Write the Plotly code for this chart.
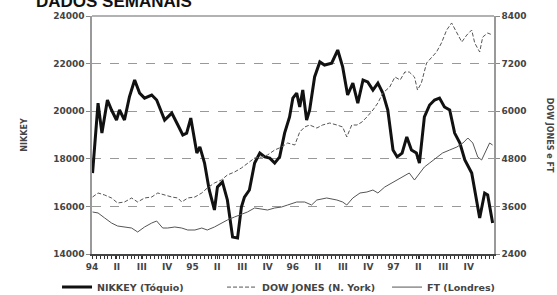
import plotly.graph_objects as go

# ---------------- data ----------------
nikkei_dates = ["1994-01-03","1994-01-23","1994-02-06","1994-02-26","1994-03-13","1994-03-31","1994-04-11",
    "1994-04-29","1994-05-17","1994-06-05","1994-06-23","1994-07-11","1994-08-06","1994-08-24","1994-09-22",
    "1994-10-18","1994-11-09","1994-11-27","1994-12-11","1994-12-26","1995-01-17","1995-01-28","1995-02-14",
    "1995-03-03","1995-03-22","1995-04-02","1995-04-20","1995-05-08","1995-05-27","1995-06-14","1995-06-28",
    "1995-07-09","1995-07-27","1995-08-15","1995-09-03","1995-09-21","1995-10-09","1995-10-27","1995-11-14",
    "1995-12-02","1995-12-20","1996-01-01","1996-01-15","1996-01-26","1996-02-06","1996-02-20","1996-03-02",
    "1996-03-20","1996-04-08","1996-04-25","1996-05-21","1996-06-12","1996-06-30","1996-07-18","1996-08-06",
    "1996-08-24","1996-09-12","1996-09-29","1996-10-18","1996-11-05","1996-11-23","1996-12-11","1996-12-30",
    "1997-01-14","1997-02-01","1997-02-18","1997-03-07","1997-03-25","1997-04-05","1997-04-23","1997-05-12",
    "1997-05-30","1997-06-17","1997-07-05","1997-07-24","1997-08-11","1997-08-30","1997-09-17","1997-10-12",
    "1997-10-23","1997-11-10","1997-11-28","1997-12-09","1997-12-27"]
nikkei = [17400,20340,19080,20470,20050,19630,20050,
    19630,20600,21310,20760,20550,20680,20470,19630,
    19920,19420,19000,19080,19710,18240,18500,17820,
    16690,15850,16820,17030,16270,14710,14670,15970,
    16390,16690,17820,18240,18080,18030,17820,18080,
    19080,19760,20550,20760,20180,20890,19630,20050,
    21440,22070,21940,22020,22570,21860,20680,21180,
    20340,21310,21230,20890,21180,20760,20050,18370,
    18080,18240,18920,18370,18240,17820,19760,20260,
    20470,20550,20180,20050,19080,18660,17950,17400,
    16690,15510,16560,16480,15300]

dow_dates = ["1994-01-03","1994-01-23","1994-02-16","1994-03-13","1994-04-04","1994-04-29","1994-05-25",
    "1994-06-16","1994-07-11","1994-08-06","1994-08-28","1994-09-22","1994-10-18","1994-11-09","1994-11-23",
    "1994-12-15","1995-01-10","1995-02-04","1995-02-24","1995-03-22","1995-04-16","1995-05-08","1995-06-03",
    "1995-06-28","1995-07-20","1995-08-15","1995-09-10","1995-10-01","1995-10-27","1995-11-21","1995-12-13",
    "1996-01-08","1996-01-26","1996-02-13","1996-03-02","1996-03-28","1996-04-18","1996-05-14","1996-06-09",
    "1996-06-30","1996-07-15","1996-08-02","1996-08-21","1996-09-08","1996-09-26","1996-10-18","1996-11-05",
    "1996-11-23","1996-12-18","1997-01-06","1997-01-25","1997-02-11","1997-02-27","1997-03-18","1997-03-29",
    "1997-04-12","1997-05-01","1997-05-19","1997-06-06","1997-06-24","1997-07-13","1997-07-31","1997-08-19",
    "1997-09-06","1997-09-24","1997-10-12","1997-10-23","1997-11-10","1997-11-21","1997-12-09","1997-12-27"]
dow = [3837,3938,3887,3812,3686,3711,3812,
    3711,3812,3837,3938,3887,3837,3812,3711,
    3812,3837,3938,4064,4190,4265,4392,4467,
    4568,4694,4820,4845,4896,5022,5097,5198,
    5148,5476,5602,5652,5576,5652,5702,5652,
    5602,5350,5652,5652,5727,5854,6030,6207,
    6459,6610,6862,6787,6988,6988,6862,6534,
    6711,7215,7366,7492,7719,8047,8224,7971,
    7744,7920,8047,7719,7492,7870,7971,7920]

ft_dates = ["1994-01-03","1994-01-23","1994-02-16","1994-03-13","1994-04-04","1994-04-29","1994-05-25",
    "1994-06-16","1994-07-11","1994-08-06","1994-08-24","1994-09-15","1994-10-03","1994-10-29","1994-11-23",
    "1994-12-15","1995-01-10","1995-02-04","1995-02-24","1995-03-22","1995-04-16","1995-05-08","1995-06-03",
    "1995-06-28","1995-07-20","1995-08-15","1995-09-10","1995-10-01","1995-10-27","1995-11-21","1995-12-13",
    "1996-01-08","1996-01-15","1996-02-13","1996-03-09","1996-03-28","1996-05-03","1996-06-09","1996-06-30",
    "1996-07-15","1996-08-06","1996-09-01","1996-09-26","1996-10-18","1996-11-05","1996-11-30","1996-12-26",
    "1997-01-14","1997-02-04","1997-02-27","1997-03-18","1997-04-05","1997-04-23","1997-05-12","1997-06-06",
    "1997-06-28","1997-07-24","1997-08-19","1997-09-10","1997-09-28","1997-10-16","1997-11-03","1997-11-17",
    "1997-12-05","1997-12-16","1997-12-27"]
ft = [3459,3434,3308,3181,3106,3081,3055,
    2955,3081,3181,3232,3055,3055,3081,3055,
    3005,3005,3055,3005,3081,3181,3257,3333,
    3408,3459,3560,3534,3509,3560,3585,3635,
    3686,3711,3711,3635,3761,3812,3761,3711,
    3635,3812,3938,3963,4013,3938,4089,4190,
    4265,4341,4442,4265,4442,4593,4694,4820,
    4946,5022,5097,5198,5324,5198,4845,4770,
    5022,5198,5148]

quarter_ticks = ["1994-01-01","1994-04-01","1994-07-01","1994-10-01",
                 "1995-01-01","1995-04-01","1995-07-01","1995-10-01",
                 "1996-01-01","1996-04-01","1996-07-01","1996-10-01",
                 "1997-01-01","1997-04-01","1997-07-01","1997-10-01"]
quarter_labels = ["94","II","III","IV","95","II","III","IV",
                  "96","II","III","IV","97","II","III","IV"]
left_ticks = [14000,16000,18000,20000,22000,24000]
right_ticks = [2400,3600,4800,6000,7200,8400]

FONT = "DejaVu Sans"
TICKFONT = dict(family=FONT, size=9, color="#444444", weight="bold")

fig = go.Figure()
fig.add_trace(go.Scatter(x=nikkei_dates, y=nikkei, mode="lines", name="<b>NIKKEY (Tóquio)</b>",
                         line=dict(color="#111111", width=3)))
fig.add_trace(go.Scatter(x=dow_dates, y=dow, mode="lines", name="<b>DOW JONES (N. York)</b>", yaxis="y2",
                         line=dict(color="#555555", width=1, dash="4px,2px")))
fig.add_trace(go.Scatter(x=ft_dates, y=ft, mode="lines", name="<b>FT (Londres)</b>", yaxis="y2",
                         line=dict(color="#555555", width=1)))

fig.update_layout(
    width=557, height=295,
    margin=dict(l=92, r=63, t=16, b=41, autoexpand=False),
    paper_bgcolor="white", plot_bgcolor="white",
    font=dict(family=FONT, size=9, color="#444444"),
    showlegend=True,
    legend=dict(orientation="h", x=-0.087, xanchor="left", y=-0.139, yanchor="middle",
                font=dict(family=FONT, size=9.5, color="#444444"), bgcolor="rgba(0,0,0,0)",
                tracegroupgap=0, itemwidth=30, entrywidth=120, entrywidthmode="pixels"),
    xaxis=dict(type="date", range=["1994-01-01", "1998-01-01"], automargin=False,
               tickmode="array", tickvals=quarter_ticks, ticktext=quarter_labels,
               ticks="outside", ticklen=3, tickcolor="#333333", tickfont=TICKFONT,
               showgrid=False, showline=True, linecolor="#444444", linewidth=1.5,
               mirror=False, zeroline=False,
               minor=dict(ticks="outside", ticklen=3, tickcolor="#333333",
                          dtick=14 * 86400000, tick0="1994-01-03", showgrid=False)),
    yaxis=dict(range=[14000, 24000], tickmode="array", tickvals=left_ticks, automargin=False,
               tickformat="d",
               ticks="outside", ticklen=4, tickcolor="#888888", tickfont=TICKFONT,
               showgrid=True, gridcolor="#999999", griddash="dash", gridwidth=1,
               showline=True, linecolor="#999999", linewidth=1.5, zeroline=False),
    yaxis2=dict(range=[2400, 8400], overlaying="y", side="right", tickmode="array", automargin=False,
                tickvals=right_ticks, tickformat="d", ticks="outside", ticklen=4, tickcolor="#888888",
                tickfont=TICKFONT, showgrid=False, showline=True, linecolor="#999999",
                linewidth=1.5, zeroline=False),
)

# top border line of the plot frame
fig.add_shape(type="line", xref="paper", yref="paper", x0=0, x1=1, y0=1, y1=1,
              line=dict(color="#999999", width=1.5))

fig.add_annotation(text="<b>DADOS SEMANAIS</b>", xref="paper", yref="paper",
                   x=-0.145, y=1.062, xanchor="left", yanchor="middle", showarrow=False,
                   font=dict(family="Liberation Sans", size=17, color="#111111"))
fig.add_annotation(text="<b>NIKKEY</b>", xref="paper", yref="paper", x=-0.17, y=0.5,
                   xanchor="center", yanchor="middle", textangle=-90, showarrow=False,
                   font=dict(family=FONT, size=8, color="#444444"))
fig.add_annotation(text="<b>DOW JONES e FT</b>", xref="paper", yref="paper", x=1.14, y=0.5,
                   xanchor="center", yanchor="middle", textangle=90, showarrow=False,
                   font=dict(family=FONT, size=8, color="#444444"))

fig.write_html("out.html", post_script="document.body.style.margin='0px';",
               config={"displayModeBar": False})
